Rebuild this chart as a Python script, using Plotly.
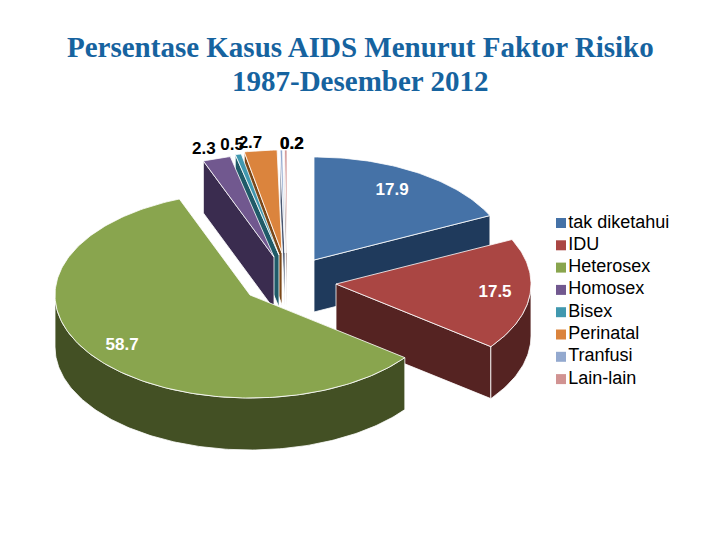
import numpy as np
import plotly.graph_objects as go

categories = ["tak diketahui", "IDU", "Heterosex", "Homosex", "Bisex", "Perinatal", "Tranfusi", "Lain-lain"]
values = [17.9, 17.5, 58.7, 2.3, 0.5, 2.7, 0.2, 0.2]
value_labels = ["17.9", "17.5", "58.7", "2.3", "0.5", "2.7", "0.2", "0.2"]
title_lines = ["Persentase Kasus AIDS Menurut Faktor Risiko", "1987-Desember 2012"]

# styling
top_colors = ["#4572A7", "#AA4643", "#89A54E", "#71588F", "#4198AF", "#DB843D", "#93A9CF", "#D19392"]
wall_colors = ["#1F3A5C", "#552322", "#435024", "#3A2C4F", "#1F5A68", "#7A4718", "#4A5670", "#6E4A49"]
# small slices go right to left so each one hides most of its neighbour's cut face
draw_order = [0, 7, 6, 5, 4, 3, 1, 2]

RX, RY, DEPTH = 195, 103, 52
apex_x = [314, 336, 250, 274, 279, 282, 285, 287]
apex_y = [260, 284, 295, 257, 255, 253, 253, 253]
label_k = [0.8, 0.82, 0.82, 1.1, 1.1, 1.1, 1.07, 1.07]
label_nudge = [(-5, 0), (0, 0), (0, 0), (-7, 1), (-2, 2), (-8, 3), (11, 2), (6, 2)]

fractions = np.array(values) / sum(values) * 360
ends = np.cumsum(fractions)
starts = ends - fractions


def rim(cx, cy, a0, a1, drop=0):
    t = np.radians(np.linspace(a0, a1, max(2, int(abs(a1 - a0)) + 2)))
    return cx + RX * np.sin(t), cy - RY * np.cos(t) + drop


def add_poly(fig, xs, ys, fill, name):
    fig.add_trace(go.Scatter(x=list(xs), y=list(ys), mode="lines", fill="toself", fillcolor=fill,
                             line=dict(color="white", width=0.8), hoverinfo="skip", name=name,
                             showlegend=False))


fig = go.Figure()

for i in draw_order:
    a0, a1 = starts[i], ends[i]
    cx, cy = apex_x[i], apex_y[i]
    name = categories[i]

    # cut faces that look towards the viewer
    for a, visible in ((a0, np.sin(np.radians(a0)) < -1e-6), (a1, np.sin(np.radians(a1)) > 1e-6)):
        if visible:
            ex, ey = rim(cx, cy, a, a)
            add_poly(fig, [cx, ex[0], ex[0], cx, cx],
                     [cy, ey[0], ey[0] + DEPTH, cy + DEPTH, cy], wall_colors[i], name)

    # outer wall, only the front half of the rim is seen
    w0, w1 = max(a0, 90), min(a1, 270)
    if w1 > w0:
        rx_, ry_ = rim(cx, cy, w0, w1)
        add_poly(fig, np.r_[rx_, rx_[::-1], rx_[0]],
                 np.r_[ry_, ry_[::-1] + DEPTH, ry_[0]], wall_colors[i], name)

    # top face
    tx, ty = rim(cx, cy, a0, a1)
    add_poly(fig, np.r_[cx, tx, cx], np.r_[cy, ty, cy], top_colors[i], name)

# value labels
for i in range(len(values)):
    mid = np.radians((starts[i] + ends[i]) / 2)
    lx = apex_x[i] + RX * label_k[i] * np.sin(mid) + label_nudge[i][0]
    ly = apex_y[i] - RY * label_k[i] * np.cos(mid) + label_nudge[i][1]
    color = "white" if values[i] > 10 else "black"
    fig.add_trace(go.Scatter(x=[lx], y=[ly], mode="text", text=[value_labels[i]], hoverinfo="skip",
                             textfont=dict(family="Liberation Sans", size=17, color=color, weight="bold"),
                             showlegend=False))

# legend, swatch sits tight against the text so the built-in one does not fit
LEGEND_X, LEGEND_Y, LEGEND_STEP = 561, 223, 22.3
for i, cat in enumerate(categories):
    fig.add_trace(go.Scatter(x=[LEGEND_X], y=[LEGEND_Y + i * LEGEND_STEP], mode="markers+text",
                             marker=dict(symbol="square", size=10, color=top_colors[i]),
                             text=[cat], textposition="middle right", hoverinfo="skip",
                             textfont=dict(family="Liberation Sans", size=18, color="black"),
                             showlegend=False))

# title lines sit closer than plotly's own line height would allow
for line, y in zip(title_lines, (47, 81)):
    fig.add_annotation(text=line, x=360, y=y, showarrow=False, xanchor="center", yanchor="middle",
                       font=dict(family="Liberation Serif", size=29, color="#16639F", weight="bold"))

fig.update_layout(
    width=720, height=540,
    margin=dict(l=0, r=0, t=0, b=0),
    paper_bgcolor="white", plot_bgcolor="white",
    showlegend=False,
    xaxis=dict(range=[0, 720], visible=False, fixedrange=True),
    yaxis=dict(range=[540, 0], visible=False, fixedrange=True),
)

fig.write_html("out.html", config=dict(displayModeBar=False),
               post_script="document.body.style.margin='0';")
